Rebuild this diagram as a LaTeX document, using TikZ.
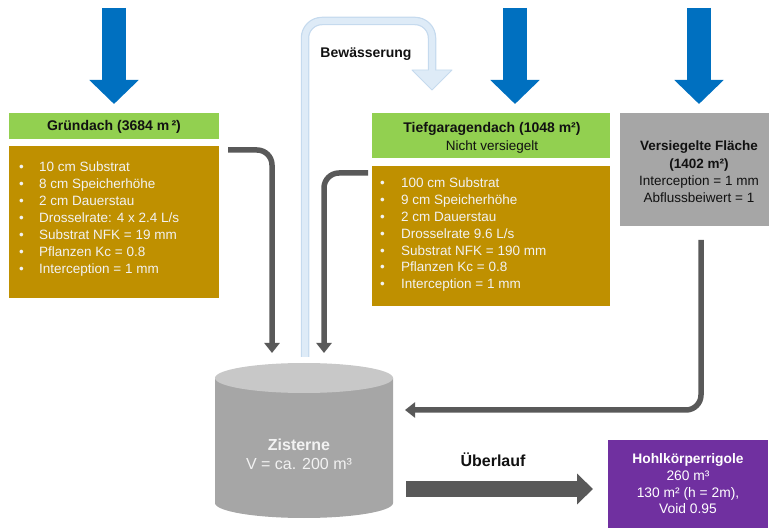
\documentclass[tikz,border=0pt]{standalone}
\usepackage{fontspec}
\setmainfont{Liberation Sans}
\usetikzlibrary{arrows.meta,calc}
\definecolor{cgreen}{HTML}{92D050}
\definecolor{cbrown}{HTML}{BF9000}
\definecolor{cgraybox}{HTML}{A6A6A6}
\definecolor{cpurple}{HTML}{7030A0}
\definecolor{cblue}{HTML}{0070C0}
\definecolor{cflow}{HTML}{595959}
\definecolor{cylside}{HTML}{A6A6A6}
\definecolor{cyltop}{HTML}{C8C8C8}
\definecolor{pipeedge}{HTML}{C5DAEE}
\definecolor{pipefill}{HTML}{DEEBF7}
\definecolor{lighttxt}{HTML}{F2F2F2}
\definecolor{darktxt}{HTML}{111111}
\begin{document}
\begin{tikzpicture}[x=1pt,y=-1pt,
  box/.style={inner sep=0pt, outer sep=0pt, anchor=north west},
  hdr/.style={inner sep=0pt, text=darktxt, align=center, font=\fontsize{14}{18}\selectfont},
  btxt/.style={inner sep=0pt, text=lighttxt, font=\fontsize{13.5}{17}\selectfont, anchor=base west},
  flow/.style={draw=cflow, line width=5.5pt, rounded corners=15pt, -{Triangle[width=15pt,length=10pt]}},
  rain/.style={draw=cblue, line width=24pt, -{Triangle[width=48pt,length=24pt]}},
  bigflow/.style={draw=cflow, line width=16pt, -{Triangle[width=30pt,length=16pt]}}
]
\useasboundingbox (0,0) rectangle (769,529);

% boxes
\node[box, fill=cgreen, minimum width=210pt, minimum height=26pt] (grhead) at (9,113) {};
\node[box, fill=cbrown, minimum width=210pt, minimum height=152pt] (grbody) at (9,146) {};
\node[box, fill=cgreen, minimum width=238pt, minimum height=45pt] (tghead) at (372,113) {};
\node[box, fill=cbrown, minimum width=238pt, minimum height=140pt] (tgbody) at (372,166) {};
\node[box, fill=cgraybox, minimum width=149pt, minimum height=113pt] (vs) at (620,113) {};
\node[box, fill=cpurple, minimum width=160pt, minimum height=88pt] (hk) at (608,440) {};

% cistern
\node[inner sep=0pt, outer sep=0pt, minimum width=178pt, minimum height=155pt] (zist) at (304,440.5) {};
\fill[cylside] (215,378) -- (215,503) arc[start angle=180, end angle=360, x radius=89pt, y radius=15pt] -- (393,378) -- cycle;
\fill[cyltop] (304,378) ellipse[x radius=89pt, y radius=15pt];

% texts
\node[hdr, font=\fontsize{14}{18}\selectfont\bfseries] (grtext) at ($(grhead.center)+(0,1)$) {Gründach (3684 m\,²)};
\node[hdr] (tgtext) at (492,137.5) {{\bfseries Tiefgaragendach (1048 m²)}\\{\fontsize{13.5}{18}\selectfont Nicht versiegelt}};
\node[hdr, font=\fontsize{13.5}{17.3}\selectfont] (vstext) at (699,172) {{\bfseries Versiegelte Fläche}\\{\bfseries (1402 m²)}\\Interception = 1 mm\\Abflussbeiwert = 1};
\node[hdr, text=white, font=\fontsize{13.8}{16.7}\selectfont] (hktext) at (688,484) {{\bfseries Hohlkörperrigole}\\260 m³\\130 m² (h = 2m),\\Void 0.95};
\node[hdr, text=lighttxt, font=\fontsize{16}{19}\selectfont] (ztext) at (299,454.5) {{\bfseries Zisterne}\\V = ca. 200 m³};
\node[hdr, font=\fontsize{16}{19}\selectfont\bfseries] (ueb) at (493,460) {Überlauf};
\node[hdr, font=\fontsize{14}{18}\selectfont\bfseries] (bew) at (366,54) {Bewässerung};

\foreach \t [count=\i from 0] in {10 cm Substrat, 8 cm Speicherhöhe, 2 cm Dauerstau, Drosselrate: 4 x 2.4 L/s, Substrat NFK = 19 mm, Pflanzen Kc = 0.8, Interception = 1 mm} {
  \node[btxt] (grb\i) at (19,172+17*\i) {•};
  \node[btxt] (grl\i) at (39,172+17*\i) {\t};
}
\foreach \t [count=\i from 0] in {100 cm Substrat, 9 cm Speicherhöhe, 2 cm Dauerstau, Drosselrate 9.6 L/s, Substrat NFK = 190 mm, Pflanzen Kc = 0.8, Interception = 1 mm} {
  \node[btxt] (tgb\i) at (380,188+16.8*\i) {•};
  \node[btxt] (tgl\i) at (401,188+16.8*\i) {\t};
}

% rain arrows
\coordinate (r1s) at (114,8);
\coordinate (r2s) at (515,8);
\coordinate (r2e) at (515,104);
\coordinate (r3s) at (699,8);
\coordinate (r3e) at (699,104);
\draw[rain] (r1s) -- ($(grhead.north)+(0,-9)$);
\draw[rain] (r2s) -- (r2e);
\draw[rain] (r3s) -- (r3e);

% irrigation pipe
\coordinate (ps) at ($(zist.north)+(1,-6)$);
\coordinate (pe) at (432,90);
\draw[pipeedge, line width=8.5pt, rounded corners=17pt] (ps) -- (305,21) -- (432,21) -- (432,71);
\draw[pipefill, line width=6pt, rounded corners=17pt] (ps) -- (305,21) -- (432,21) -- (432,71);
\filldraw[fill=pipefill, draw=pipeedge, line width=0.9pt, line join=round] (412,70) -- (452,70) -- (pe) -- cycle;
\draw[pipefill, line width=6pt] (432,66) -- (432,72);

% flows into cistern
\draw[flow] ($(grbody.north east)+(9,4)$) -| ($(zist.north)+(-32,-10)$);
\draw[flow] ($(tgbody.north west)+(-4,7)$) -| ($(zist.north)+(20,-10)$);
\draw[flow] ($(vs.south)+(6.5,14)$) |- ($(zist.east)+(12,-30.5)$);

% overflow
\draw[bigflow] ($(zist.east)+(13,48.5)$) -- ($(hk.west)+(-15,5)$);
\end{tikzpicture}
\end{document}
